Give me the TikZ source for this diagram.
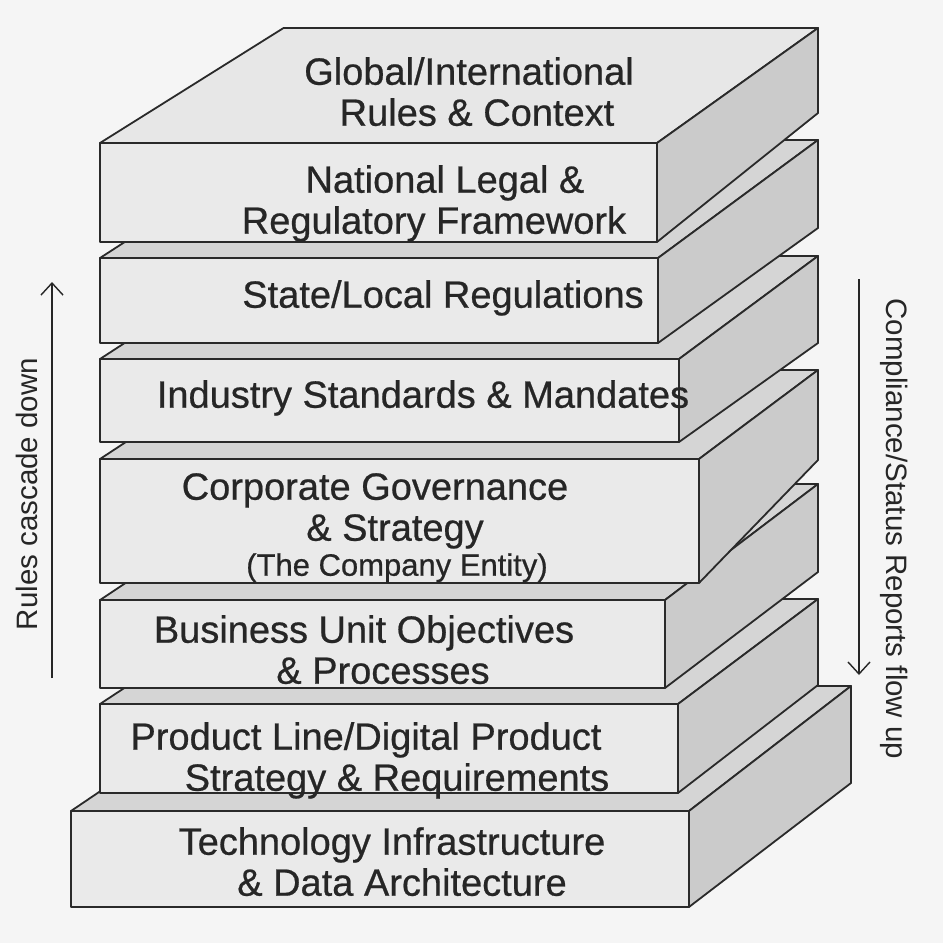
\documentclass[tikz,border=0pt]{standalone}
\usepackage{fontspec}
\setmainfont{Liberation Sans}
\newfontfamily\layerfont{Liberation Sans}[FakeBold=0.6]
\usetikzlibrary{arrows.meta}
\definecolor{bg}{HTML}{F5F5F5}
\definecolor{frontgray}{HTML}{EAEAEA}
\definecolor{topgray}{HTML}{D5D5D5}
\definecolor{lidgray}{HTML}{E7E7E7}
\definecolor{sidegray}{HTML}{CBCBCB}
\definecolor{ink}{HTML}{262626}
\definecolor{edge}{HTML}{2A2A2A}
\tikzset{face/.style={ % outline of every side of a layer
			draw=edge,
			line width=1.8pt,
			line join=round},
	layertext/.style={inner sep=0pt, anchor=north, align=center, text=ink,
			font=\layerfont\fontsize{38}{41}\selectfont},
	sidetext/.style={inner sep=0pt, text=ink, font=\fontsize{29.5}{33}\selectfont},
	flow/.style={draw=ink, line width=1.4pt,
			-{Straight Barb[length=12pt,width=22pt,line width=1.4pt]}}}
% one layer: left, right, top, bottom of the front, back x, back top, back bottom, lid colour
\newcommand{\layerbox}[8]{%
	\filldraw[face, fill=#8] (#1,#3) -- (#1+1.14*#5-1.14*#2,#6) -- (#5,#6) -- (#2,#3) -- cycle;
	\filldraw[face, fill=sidegray] (#2,#3) -- (#5,#6) -- (#5,#7) -- (#2,#4) -- cycle;
	\filldraw[face, fill=frontgray] (#1,#3) rectangle (#2,#4);}

\begin{document}
\begin{tikzpicture}[x=1pt, y=-1pt]
			\fill[bg] (0,0) rectangle (943,943);
			
			\layerbox{71}{689}{811}{907}{851}{686}{783}{topgray}
			\layerbox{100}{678}{704}{793}{818}{599}{685}{topgray}
			\layerbox{100}{665}{600}{688}{818}{484}{572}{topgray}
			\layerbox{100}{699}{459}{583}{818}{370}{460}{topgray}
			\layerbox{100}{679}{359}{442}{818}{256}{343}{topgray}
			\layerbox{100}{658}{258}{343}{818}{140}{228}{topgray}
			\layerbox{100}{657}{143}{242}{818}{28}{113}{lidgray}
			
			\node [layertext] (glob) at (469,57) {Global/International\\\hspace*{16pt}Rules \& Context};
			\node [layertext] (nat) at (434,165) {\hspace*{22pt}National Legal \&\\Regulatory Framework};
			\node [layertext] (state) at (443,280) {State/Local Regulations};
			\node [layertext] (ind) at (423,380) {Industry Standards \& Mandates};
			\node [layertext] (corp) at (375,473) {Corporate Governance\\\hspace*{40pt}\& Strategy\\[-6pt]\hspace*{44pt}{\fontsize{31}{34}\selectfont (The Company Entity)}};
			\node [layertext] (bu) at (364,615) {Business Unit Objectives\\\hspace*{38pt}\& Processes};
			\node [layertext] (prod) at (366,722) {Product Line/Digital Product\\\hspace*{62pt}Strategy \& Requirements};
			\node [layertext] (tech) at (392,827) {Technology Infrastructure\\\hspace*{20pt}\& Data Architecture};
			
			\coordinate (cascadeFoot) at (52,678);
			\coordinate (cascadeTip) at (52,282);
			\coordinate (reportTop) at (859,279);
			\coordinate (reportTip) at (859,675);
			\node [sidetext, rotate=90] (cascade) at (27,494) {Rules cascade down};
			\node [sidetext, rotate=-90] (reports) at (894,529) {Compliance/Status Reports flow up};
			
			\draw[flow] (cascadeFoot) -- (cascadeTip);
			\draw[flow] (reportTop) -- (reportTip);
		\end{tikzpicture}
\end{document}
